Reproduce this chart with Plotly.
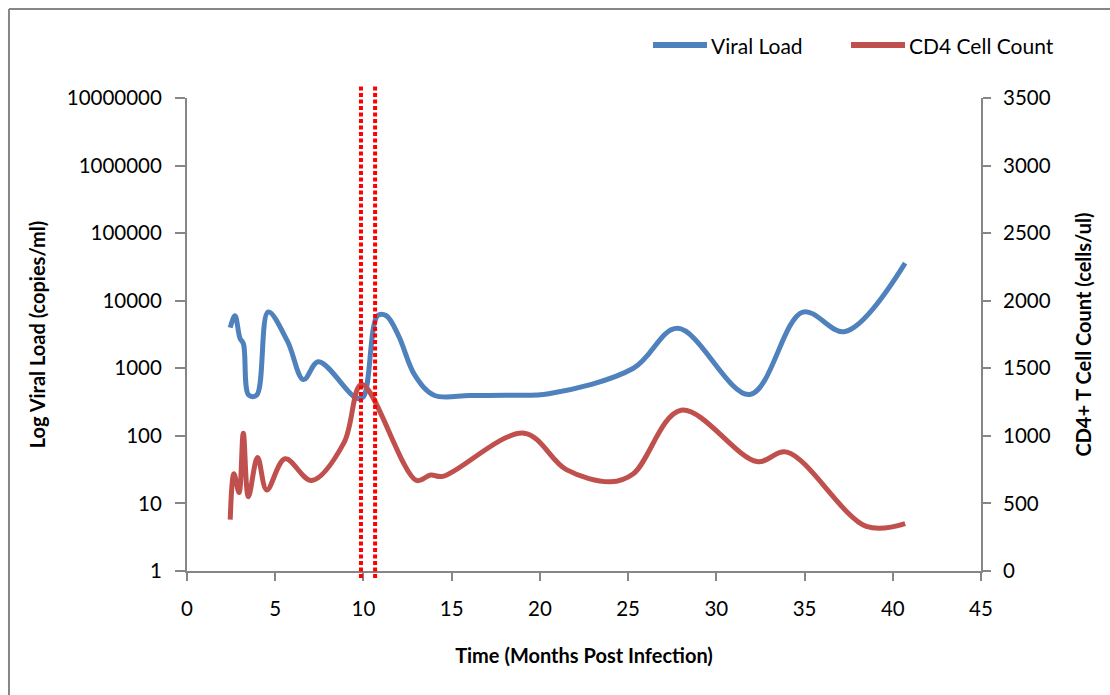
import plotly.graph_objects as go

# Viral load (copies/ml) by months post infection
vl_months = [2.45, 2.72, 3.0, 3.2, 3.5, 3.95, 4.6, 5.7, 6.6, 7.45, 9.6, 10.0,
             10.8, 11.3, 12.0, 12.9, 14.0, 16.0, 18.0, 20.5, 25.3, 27.8, 31.9, 34.9, 37.3, 40.7]
vl_values = [4000, 6000, 2800, 2300, 400, 400, 6800, 2500, 680, 1250, 360, 380,
             6000, 6000, 3000, 800, 400, 395, 400, 420, 1000, 3900, 410, 6800, 3500, 36000]

# CD4+ T cell count (cells/ul) by months post infection
cd4_months = [2.45, 2.66, 2.95, 3.19, 3.48, 4.0, 4.52, 5.56, 7.07, 8.9, 9.9,
              13.0, 13.8, 14.5, 19.1, 21.5, 24.0, 25.3, 28.0, 32.3, 34.0, 38.5, 40.7]
cd4_values = [380, 720, 580, 1020, 550, 840, 600, 830, 670, 950, 1380,
              670, 710, 700, 1020, 750, 660, 720, 1190, 810, 880, 330, 350]

# Marked time points (months)
event_months = [9.86, 10.66]

x_ticks = [0, 5, 10, 15, 20, 25, 30, 35, 40, 45]
vl_ticks = [1, 10, 100, 1000, 10000, 100000, 1000000, 10000000]
cd4_ticks = [0, 500, 1000, 1500, 2000, 2500, 3000, 3500]

BLUE = "#4F81BD"
RED = "#C0504D"
AXIS = "#868686"
FONT = "Lato, sans-serif"

fig = go.Figure()
fig.add_trace(go.Scatter(x=vl_months, y=vl_values, name="Viral Load", mode="lines",
                         line=dict(color=BLUE, width=5, shape="spline", smoothing=1),
                         yaxis="y"))
fig.add_trace(go.Scatter(x=cd4_months, y=cd4_values, name="CD4 Cell Count", mode="lines",
                         line=dict(color=RED, width=5, shape="spline", smoothing=1),
                         yaxis="y2"))

shapes = []
for m in event_months:
    shapes.append(dict(type="line", xref="x", yref="paper", x0=m, x1=m,
                       y0=-0.015, y1=1.0275,
                       line=dict(color="#FF0000", width=4, dash="4px,2.5px")))

# frame lines (left and top)
shapes.append(dict(type="line", xref="paper", yref="paper", x0=-0.2242, x1=-0.2242,
                   y0=-0.3, y1=1.188, line=dict(color=AXIS, width=2)))
shapes.append(dict(type="line", xref="paper", yref="paper", x0=-0.2242, x1=1.2,
                   y0=1.188, y1=1.188, line=dict(color=AXIS, width=2)))

# legend keys
legend_items = [("Viral Load", BLUE, 0.5869, 0.6549), ("CD4 Cell Count", RED, 0.8363, 0.9043)]
annotations = []
for label, color, xa, xb in legend_items:
    shapes.append(dict(type="line", xref="paper", yref="paper", x0=xa, x1=xb,
                       y0=1.112, y1=1.112, line=dict(color=color, width=6)))
    annotations.append(dict(text=label, xref="paper", yref="paper", x=xb + 0.002, y=1.112,
                            xanchor="left", yanchor="middle", showarrow=False,
                            font=dict(family=FONT, size=21, color="#000000")))

fig.update_layout(
    width=1110, height=695,
    margin=dict(l=187, r=129, t=98, b=124),
    paper_bgcolor="white", plot_bgcolor="white",
    showlegend=False,
    shapes=shapes,
    annotations=annotations,
    font=dict(family=FONT, color="#000000"),
    xaxis=dict(range=[0, 45], tickvals=x_ticks, showgrid=False, zeroline=False,
               showline=True, linecolor=AXIS, linewidth=2,
               ticks="outside", ticklen=8, tickwidth=2, tickcolor=AXIS,
               tickfont=dict(size=20.5), ticklabelstandoff=10,
               title=dict(text="<b>Time (Months Post Infection)</b>",
                          font=dict(size=20), standoff=30)),
    yaxis=dict(type="log", range=[0, 7], tickvals=vl_ticks,
               ticktext=[str(v) for v in vl_ticks], showgrid=False, zeroline=False,
               showline=True, linecolor=AXIS, linewidth=2,
               ticks="outside", ticklen=10, tickwidth=2, tickcolor=AXIS,
               tickfont=dict(size=20.5), ticklabelstandoff=9,
               title=dict(text="<b>Log Viral Load (copies/ml)</b>",
                          font=dict(size=20), standoff=16)),
    yaxis2=dict(overlaying="y", side="right", range=[0, 3500], tickvals=cd4_ticks,
                showgrid=False, zeroline=False,
                showline=True, linecolor=AXIS, linewidth=2,
                ticks="outside", ticklen=8, tickwidth=2, tickcolor=AXIS,
                tickfont=dict(size=20.5), ticklabelstandoff=8,
                title=dict(text="<b>CD4+ T Cell Count (cells/ul)</b>",
                           font=dict(size=20), standoff=27)),
)

fig.write_html("out.html")
